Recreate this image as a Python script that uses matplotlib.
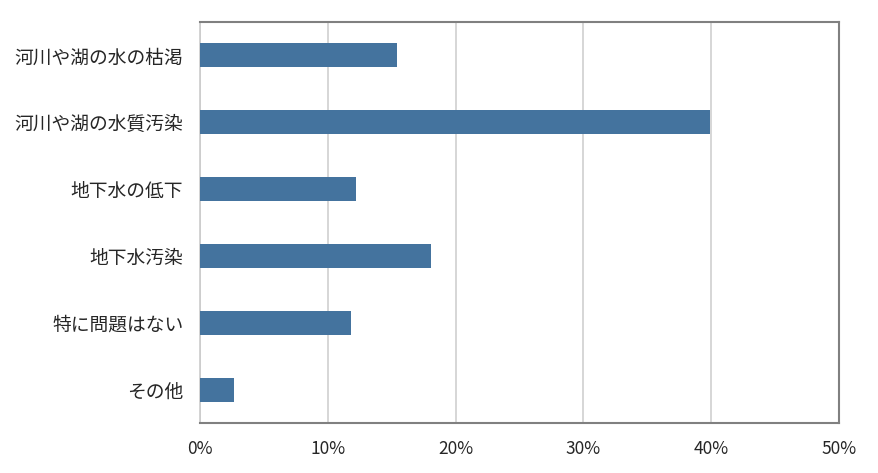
import matplotlib
matplotlib.use('Agg')
import matplotlib.pyplot as plt

plt.rcParams['font.family'] = ['Noto Sans CJK JP', 'DejaVu Sans']

categories = ['河川や湖の水の枯渇', '河川や湖の水質汚染', '地下水の低下', '地下水汚染', '特に問題はない', 'その他']
values = [15.4, 39.9, 12.2, 18.1, 11.8, 2.7]
xticks = [0, 10, 20, 30, 40, 50]
xticklabels = ['0%', '10%', '20%', '30%', '40%', '50%']

fig = plt.figure(figsize=(8.79, 4.73), dpi=100)
ax = fig.add_axes([0.2275, 0.1057, 0.727, 0.848])

pos = list(range(len(categories)))
ax.barh(pos, values, height=0.36, color='#44739e', zorder=3)

ax.set_xlim(0, 50)
ax.set_ylim(len(categories) - 0.5, -0.5)
ax.set_yticks(pos)
ax.set_yticklabels(categories, fontsize=13.5, color='#262626')
ax.set_xticks(xticks)
ax.set_xticklabels(xticklabels, fontsize=12.5, color='#262626')
ax.tick_params(axis='both', length=0)
ax.tick_params(axis='y', pad=12)
ax.tick_params(axis='x', pad=12)

ax.grid(axis='x', color='#cccccc', linewidth=1.1, zorder=0)
for side in ['top', 'right', 'bottom']:
    ax.spines[side].set_color('#808080')
    ax.spines[side].set_linewidth(1.5)
ax.spines['left'].set_color('#cccccc')
ax.spines['left'].set_linewidth(1.2)

fig.savefig('out.png', dpi=100)
